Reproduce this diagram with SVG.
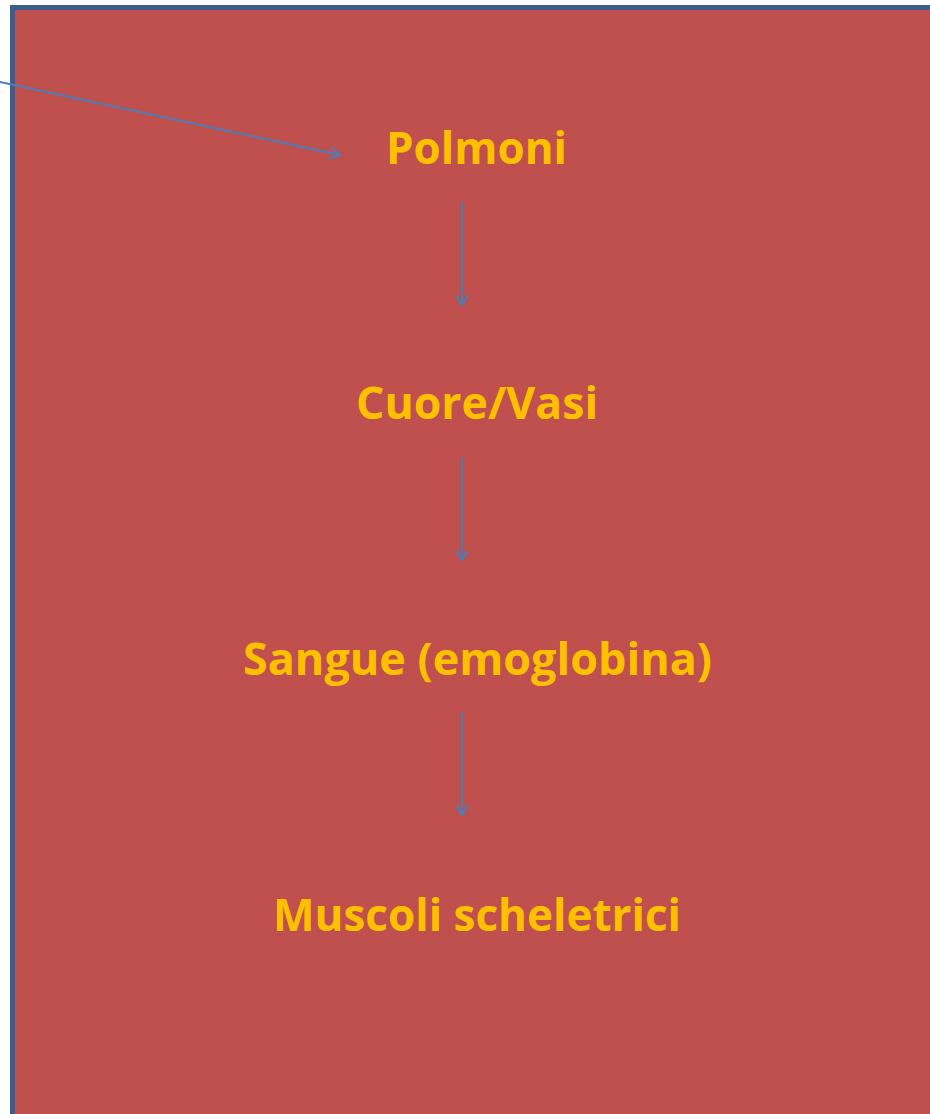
<svg xmlns="http://www.w3.org/2000/svg" width="930" height="1114" viewBox="0 0 930 1114">
<defs>
<style>
.lbl{font-family:"Open Sans","Liberation Sans",sans-serif;font-weight:bold;font-size:45px;fill:#FFC000;text-anchor:middle}
.con{stroke:#4A7EBB;stroke-width:2;fill:none}
</style>
<marker id="ah" markerWidth="20" markerHeight="20" refX="10" refY="6" orient="auto" markerUnits="userSpaceOnUse" viewBox="0 0 20 12">
<path d="M0,0 L10,6 L0,12" fill="none" stroke="#4A7EBB" stroke-width="2"/>
</marker>
</defs>
<rect x="0" y="0" width="930" height="1114" fill="#FFFFFF"/>
<rect id="frame" x="12.5" y="7.5" width="940" height="1120" fill="#C0504D" stroke="#3A5F8C" stroke-width="5"/>
<g id="connectors">
<line class="con" x1="0" y1="82" x2="340" y2="155" marker-end="url(#ah)"/>
<line class="con" x1="462" y1="202" x2="462" y2="305" marker-end="url(#ah)"/>
<line class="con" x1="462" y1="457" x2="462" y2="560" marker-end="url(#ah)"/>
<line class="con" x1="462" y1="712" x2="462" y2="815" marker-end="url(#ah)"/>
</g>
<g id="n1"><text class="lbl" x="476.5" y="164" textLength="181" lengthAdjust="spacingAndGlyphs">Polmoni</text></g>
<g id="n2"><text class="lbl" x="477" y="419" textLength="242" lengthAdjust="spacingAndGlyphs">Cuore/Vasi</text></g>
<g id="n3"><text class="lbl" x="477.5" y="675" textLength="469" lengthAdjust="spacingAndGlyphs">Sangue (emoglobina)</text></g>
<g id="n4"><text class="lbl" x="477" y="931" textLength="408" lengthAdjust="spacingAndGlyphs">Muscoli scheletrici</text></g>
</svg>
